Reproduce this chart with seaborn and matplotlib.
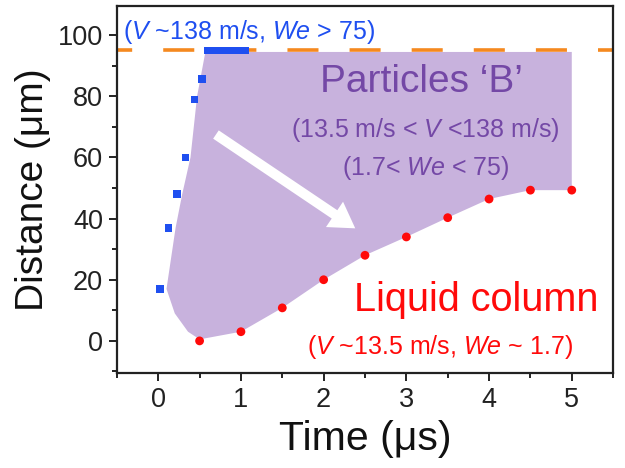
import matplotlib
matplotlib.use("Agg")
import matplotlib.pyplot as plt
import seaborn as sns
import pandas as pd
from matplotlib.patches import FancyArrowPatch
from matplotlib.ticker import MultipleLocator

# ---- data ----
blue_t = [0.02, 0.125, 0.23, 0.33, 0.44, 0.53,
          0.60, 0.65, 0.70, 0.75, 0.80, 0.85, 0.90, 0.95, 1.00, 1.05]
blue_d = [17, 37, 48, 60, 79, 85.6,
          95, 95, 95, 95, 95, 95, 95, 95, 95, 95]
red_t = [0.5, 1.0, 1.5, 2.0, 2.5, 3.0, 3.5, 4.0, 4.5, 5.0]
red_d = [0.0, 3.0, 10.8, 20.0, 28.0, 34.0, 40.3, 46.4, 49.3, 49.3]
region_t = [0.57, 0.47, 0.39, 0.29, 0.21, 0.10, 0.20, 0.36, 0.50,
            1.0, 1.5, 2.0, 2.5, 3.0, 3.5, 4.0, 4.5, 5.0, 5.0]
region_d = [94.5, 80, 60, 48, 37, 17, 9, 3, 0.5,
            3, 10.8, 20, 28, 34, 40.3, 46.4, 49.3, 49.3, 94.5]
limit_d = 95
x_ticks = [0, 1, 2, 3, 4, 5]
y_ticks = [0, 20, 40, 60, 80, 100]

sns.set_theme(style="ticks")
plt.rcParams["font.family"] = ["Liberation Sans", "DejaVu Sans"]
plt.rcParams["mathtext.fontset"] = "custom"
plt.rcParams["mathtext.rm"] = "Liberation Sans"
plt.rcParams["mathtext.it"] = "Liberation Sans:italic"

fig = plt.figure(figsize=(6.25, 4.68), dpi=100)
ax = fig.add_axes([0.187, 0.203, 0.794, 0.784])

purple_fill = "#C8B2DD"
purple_txt = "#7448A6"
blue = "#1F4FF0"
red = "#FF0A0A"
orange = "#F5891F"

ax.fill(region_t, region_d, color=purple_fill, lw=0, zorder=1)
ax.axhline(limit_d, color=orange, lw=2.6, ls=(4.4, (8.6, 8.6)), zorder=2)

blue_df = pd.DataFrame({"t": blue_t, "d": blue_d})
red_df = pd.DataFrame({"t": red_t, "d": red_d})
sns.scatterplot(data=blue_df, x="t", y="d", marker="s", s=30, color=blue,
                edgecolor="none", ax=ax, zorder=3)
sns.scatterplot(data=red_df, x="t", y="d", marker="o", s=40, color=red,
                edgecolor="none", ax=ax, zorder=3)

arrow = FancyArrowPatch((0.67, 68), (2.41, 36.3),
                        arrowstyle="simple,head_length=0.9,head_width=1.1,tail_width=0.36",
                        mutation_scale=20, color="white", lw=0, zorder=2)
ax.add_patch(arrow)

ax.text(-0.43, 101, r"($\it{V}$ ~138 m/s, $\it{We}$ > 75)", color=blue,
        fontsize=18, ha="left", va="center", zorder=4)
ax.text(3.18, 84.6, "Particles \u2018B\u2019", color=purple_txt,
        fontsize=28, ha="center", va="center", zorder=4)
ax.text(3.23, 69, r"(13.5 m/s < $\it{V}$ <138 m/s)", color=purple_txt,
        fontsize=18, ha="center", va="center", zorder=4)
ax.text(3.23, 56.5, r"(1.7< $\it{We}$ < 75)", color=purple_txt,
        fontsize=18, ha="center", va="center", zorder=4)
ax.text(3.85, 13.4, "Liquid column", color=red,
        fontsize=28.5, ha="center", va="center", zorder=4)
ax.text(3.41, -2, r"($\it{V}$ ~13.5 m/s, $\it{We}$ ~ 1.7)", color=red,
        fontsize=18, ha="center", va="center", zorder=4)

ax.set_xlim(-0.5, 5.5)
ax.set_ylim(-10.5, 109.5)
ax.set_xticks(x_ticks)
ax.set_yticks(y_ticks)
ax.xaxis.set_minor_locator(MultipleLocator(0.5))
ax.yaxis.set_minor_locator(MultipleLocator(10))
ax.tick_params(which="major", direction="out", length=6, width=1.4,
               labelsize=19.5, colors="#222222", pad=4)
ax.tick_params(which="minor", direction="out", length=3.5, width=1.4,
               colors="#222222")
ax.set_xlabel("Time (\u03bcs)", fontsize=29.5, color="#111111", labelpad=5)
ax.set_ylabel("Distance (\u03bcm)", fontsize=28, color="#111111", labelpad=5)
for sp in ax.spines.values():
    sp.set_visible(True)
    sp.set_linewidth(1.6)
    sp.set_color("#222222")

fig.savefig("out.png", dpi=100)
